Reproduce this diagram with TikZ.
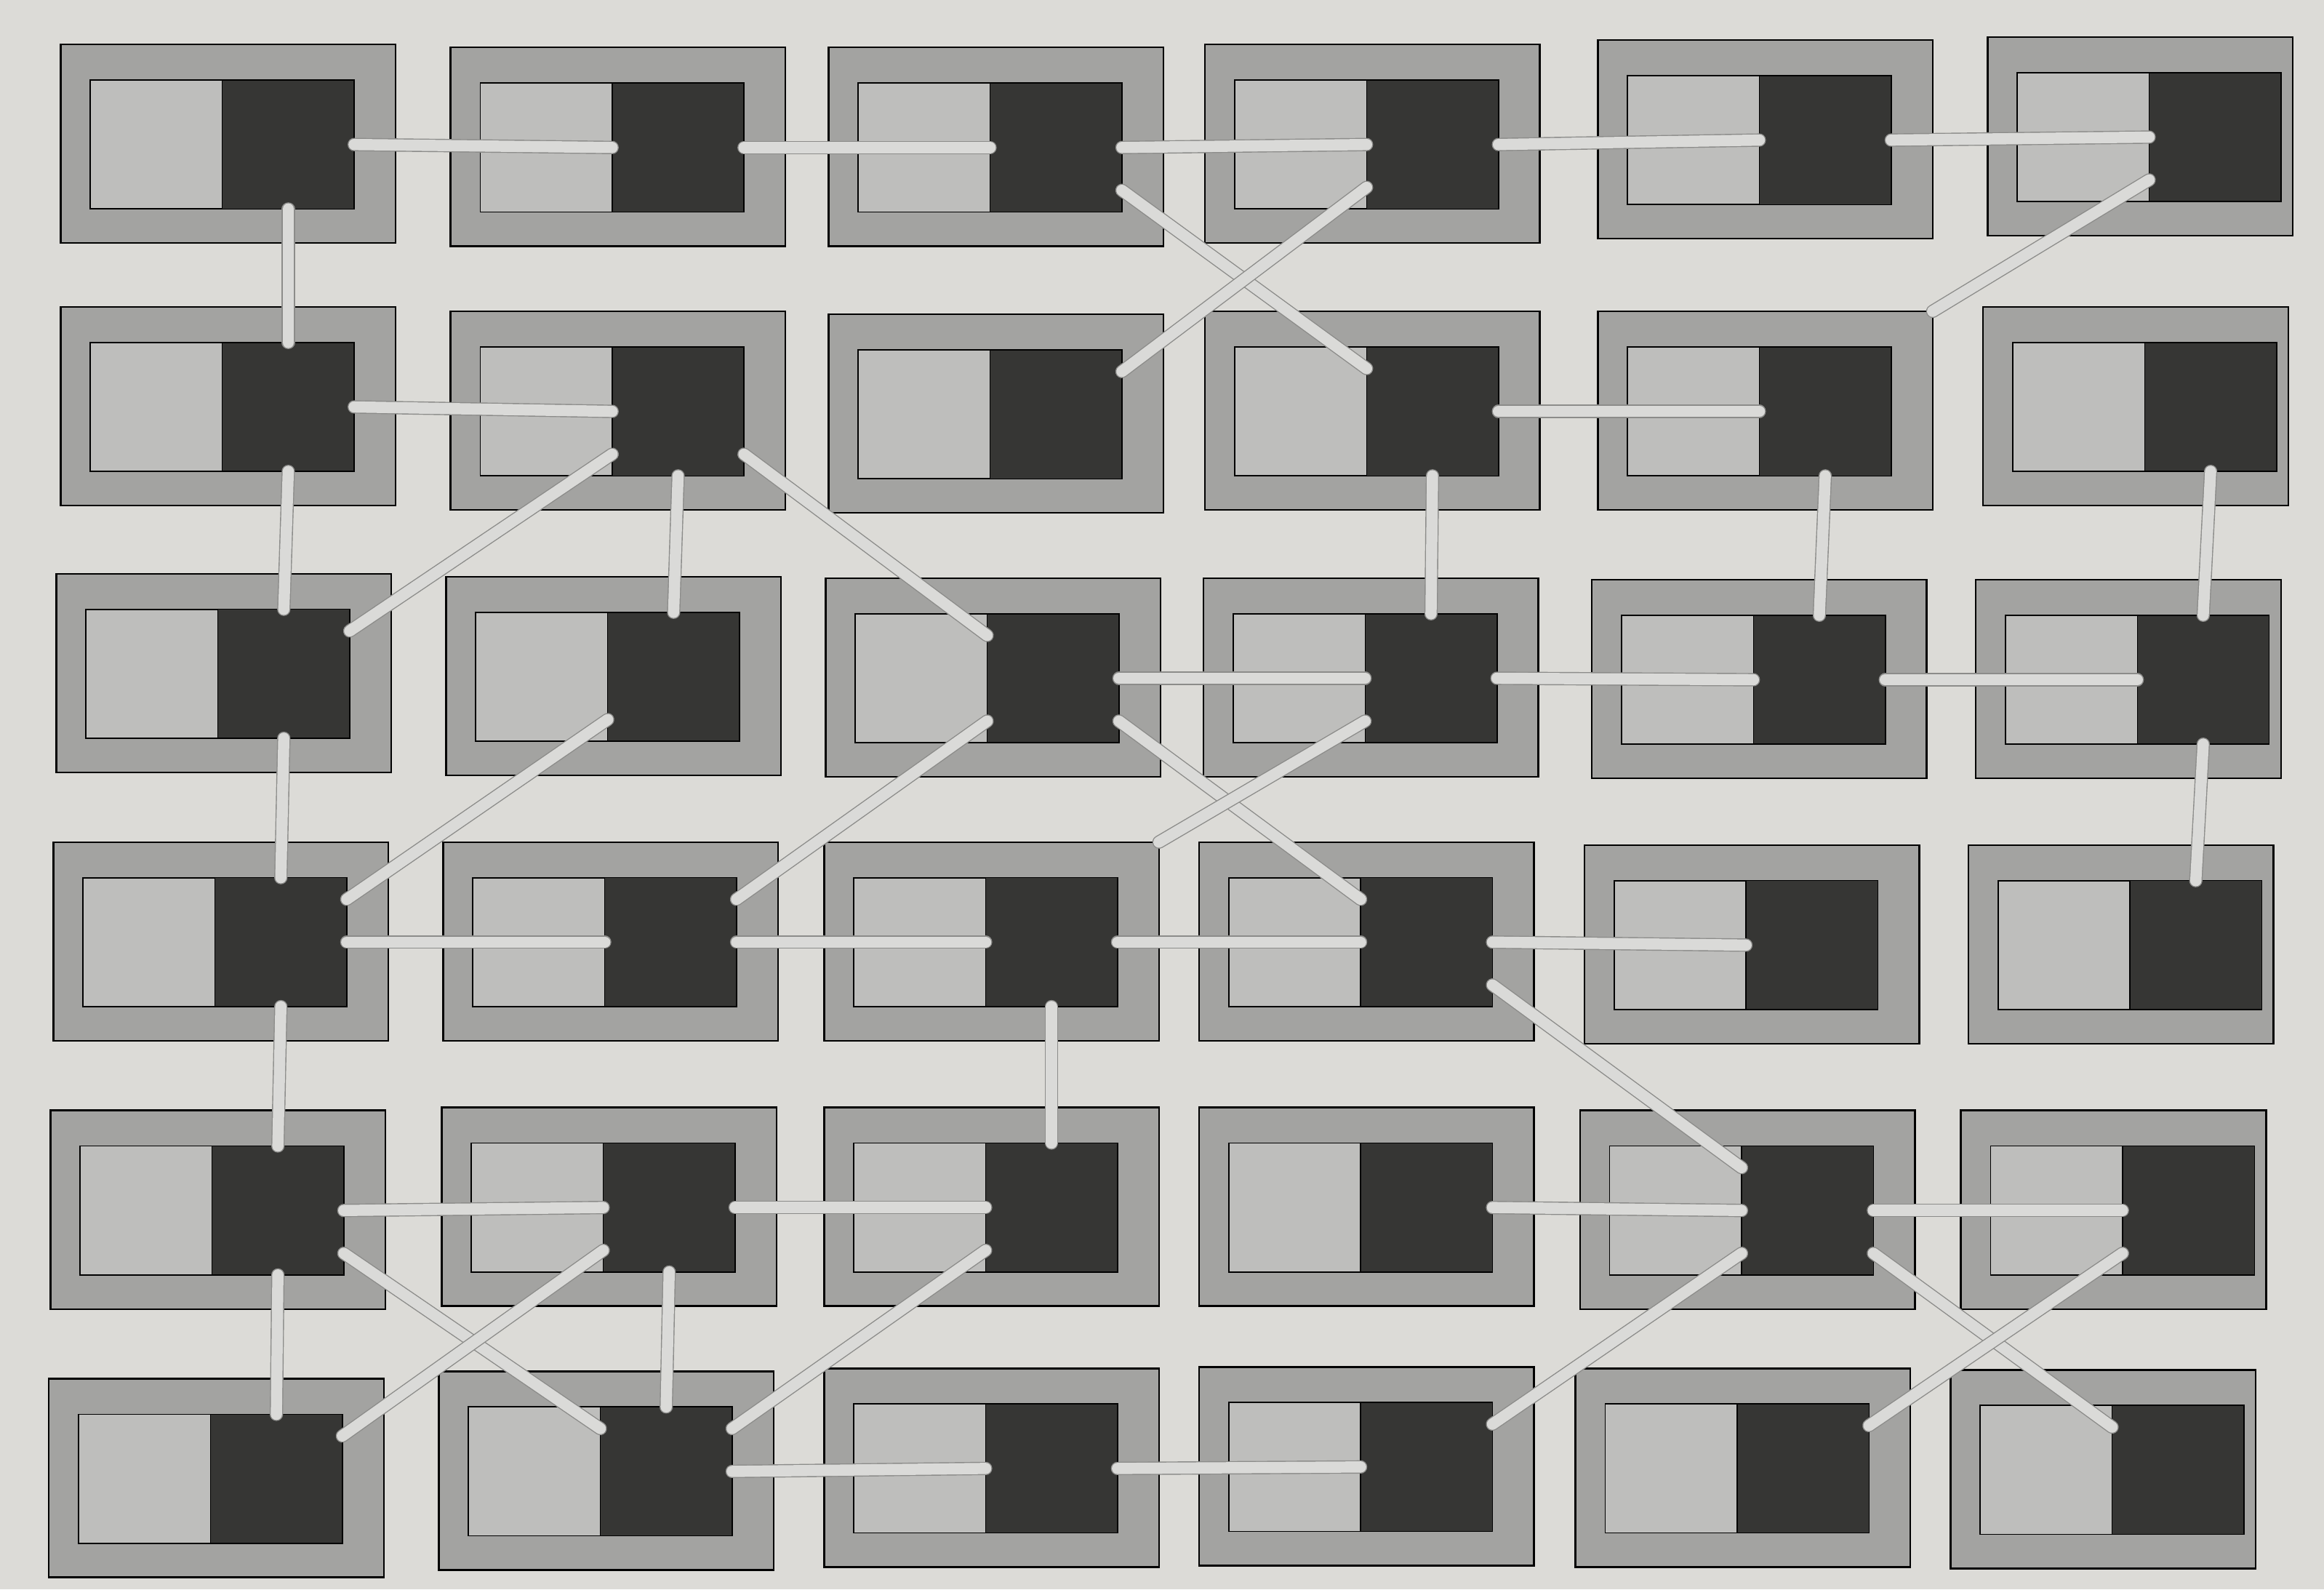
\documentclass[tikz,border=0pt]{standalone}
\usetikzlibrary{calc}
\definecolor{paper}{HTML}{DCDBD7}
\definecolor{ring}{HTML}{A3A3A1}
\definecolor{lite}{HTML}{BEBEBC}
\definecolor{darkfill}{HTML}{363634}
\definecolor{rodcol}{HTML}{DADAD8}
\definecolor{rodedge}{HTML}{8C8C8A}
\tikzset{
 outerbox/.style={draw=black, line width=0.7pt, fill=ring, minimum width=4.606cm, minimum height=2.731cm, inner sep=0pt, outer sep=0pt, anchor=north west},
 innerbox/.style={draw=black, line width=0.5pt, fill=lite, minimum width=3.628cm, minimum height=1.773cm, inner sep=0pt, outer sep=0pt, anchor=north west},
 darkbox/.style={draw=black, line width=0.4pt, fill=darkfill, minimum width=1.814cm, minimum height=1.773cm, inner sep=0pt, outer sep=0pt, anchor=north east},
 rodunder/.style={draw=rodedge, line width=5.2pt, line cap=round},
 rodtop/.style={draw=rodcol, line width=4.4pt, line cap=round},
}
\newcommand{\myrod}[2]{\draw[rodunder] #1 -- #2; \draw[rodtop] #1 -- #2;}
\newcommand{\mycell}[4]{%
 \node[outerbox, minimum width=#4] (o#1) at (#2,#3) {};
 \node[innerbox] (i#1) at ([xshift=0.408cm,yshift=-0.489cm]o#1.north west) {};
 \node[darkbox] (d#1) at (i#1.north east) {};
}
\begin{document}
\begin{tikzpicture}[x=0.02038cm, y=-0.02038cm]
\fill[paper] (0,0) rectangle (1568,1072);
\useasboundingbox (0,0) rectangle (1568,1072);
% row 1
\mycell{11}{41}{30}{4.606cm}
\mycell{12}{304}{32}{4.606cm}
\mycell{13}{559}{32}{4.606cm}
\mycell{14}{813}{30}{4.606cm}
\mycell{15}{1078}{27}{4.606cm}
\mycell{16}{1341}{25}{4.198cm}
% row 2
\mycell{21}{41}{207}{4.606cm}
\mycell{22}{304}{210}{4.606cm}
\mycell{23}{559}{212}{4.606cm}
\mycell{24}{813}{210}{4.606cm}
\mycell{25}{1078}{210}{4.606cm}
\mycell{26}{1338}{207}{4.198cm}
% row 3
\mycell{31}{38}{387}{4.606cm}
\mycell{32}{301}{389}{4.606cm}
\mycell{33}{557}{390}{4.606cm}
\mycell{34}{812}{390}{4.606cm}
\mycell{35}{1074}{391}{4.606cm}
\mycell{36}{1333}{391}{4.198cm}
% row 4
\mycell{41}{36}{568}{4.606cm}
\mycell{42}{299}{568}{4.606cm}
\mycell{43}{556}{568}{4.606cm}
\mycell{44}{809}{568}{4.606cm}
\mycell{45}{1069}{570}{4.606cm}
\mycell{46}{1328}{570}{4.198cm}
% row 5
\mycell{51}{34}{749}{4.606cm}
\mycell{52}{298}{747}{4.606cm}
\mycell{53}{556}{747}{4.606cm}
\mycell{54}{809}{747}{4.606cm}
\mycell{55}{1066}{749}{4.606cm}
\mycell{56}{1323}{749}{4.198cm}
% row 6
\mycell{61}{33}{930}{4.606cm}
\mycell{62}{296}{925}{4.606cm}
\mycell{63}{556}{923}{4.606cm}
\mycell{64}{809}{922}{4.606cm}
\mycell{65}{1063}{923}{4.606cm}
\mycell{66}{1316}{924}{4.198cm}
% horizontal rods
\myrod{(d11.east)}{(d12.west)}
\myrod{(d12.east)}{(d13.west)}
\myrod{(d13.east)}{(d14.west)}
\myrod{(d14.east)}{(d15.west)}
\myrod{(d15.east)}{(d16.west)}
\myrod{(d21.east)}{(d22.west)}
\myrod{(d24.east)}{(d25.west)}
\myrod{(d33.east)}{(d34.west)}
\myrod{(d34.east)}{(d35.west)}
\myrod{(d35.east)}{(d36.west)}
\myrod{(d41.east)}{(d42.west)}
\myrod{(d42.east)}{(d43.west)}
\myrod{(d43.east)}{(d44.west)}
\myrod{(d44.east)}{(d45.west)}
\myrod{(d51.east)}{(d52.west)}
\myrod{(d52.east)}{(d53.west)}
\myrod{(d54.east)}{(d55.west)}
\myrod{(d55.east)}{(d56.west)}
\myrod{(d62.east)}{(d63.west)}
\myrod{(d63.east)}{(d64.west)}
% vertical rods
\myrod{(d11.south)}{(d21.north)}
\myrod{(d21.south)}{(d31.north)}
\myrod{(d22.south)}{(d32.north)}
\myrod{(d24.south)}{(d34.north)}
\myrod{(d25.south)}{(d35.north)}
\myrod{(d26.south)}{(d36.north)}
\myrod{(d31.south)}{(d41.north)}
\myrod{(d36.south)}{(d46.north)}
\myrod{(d41.south)}{(d51.north)}
\myrod{(d43.south)}{(d53.north)}
\myrod{(d51.south)}{(d61.north)}
\myrod{(d52.south)}{(d62.north)}
% diagonal rods, down-right
\myrod{(d13.-33)}{(d24.147)}
\myrod{(d22.-33)}{(d33.147)}
\myrod{(d33.-33)}{(d44.147)}
\myrod{(d44.-33)}{(d55.147)}
\myrod{(d51.-33)}{(d62.147)}
\myrod{(d55.-33)}{(d66.147)}
% diagonal rods, down-left
\myrod{(d14.-147)}{(d23.33)}
\myrod{(d22.-147)}{(d31.33)}
\myrod{(d32.-147)}{(d41.33)}
\myrod{(d33.-147)}{(d42.33)}
\myrod{(d52.-147)}{(d61.33)}
\myrod{(d53.-147)}{(d62.33)}
\myrod{(d55.-147)}{(d64.33)}
\myrod{(d56.-147)}{(d65.33)}
\myrod{(d16.-147)}{(o25.north east)}
\myrod{(d34.-147)}{(o43.north east)}
\end{tikzpicture}
\end{document}
